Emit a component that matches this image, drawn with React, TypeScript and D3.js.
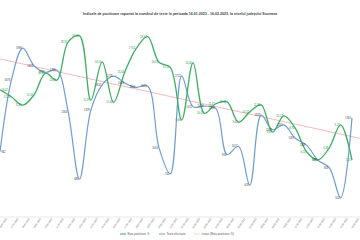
import React from "react";
import * as d3 from "d3";

const dates = [
  "16.01.2023", "17.01.2023", "18.01.2023", "19.01.2023", "20.01.2023", "21.01.2023",
  "22.01.2023", "23.01.2023", "24.01.2023", "25.01.2023", "26.01.2023", "27.01.2023",
  "28.01.2023", "29.01.2023", "30.01.2023", "31.01.2023", "01.02.2023", "02.02.2023",
  "03.02.2023", "04.02.2023", "05.02.2023", "06.02.2023", "07.02.2023", "08.02.2023",
  "09.02.2023", "10.02.2023", "11.02.2023", "12.02.2023", "13.02.2023", "14.02.2023",
  "15.02.2023", "16.02.2023",
];

const rataPozitivare = [
  13.02, 12.25, 11.31, 12.47, 14.86, 14.09, 18.35, 19.04, 11.87, 16.13, 11.64, 15.03,
  17.62, 18.93, 16.09, 15.51, 9.66, 16.02, 10.41, 11.47, 11.68, 9.42, 10.57, 11.35,
  8.31, 10.12, 8.76, 6.14, 5.23, 6.58, 9.13, 5.21,
];

const testeEfectuate = [
  962, 1676, 1998, 1823, 1757, 1781, 1364, 688, 1379, 1632, 1718, 1649, 1606, 1621,
  1003, 741, 1722, 1412, 1418, 1396, 934, 1017, 629, 1328, 1183, 1231, 1097, 1029,
  878, 803, 502, 1301,
];

const title =
  "Indicele de pozitivare  raportat la numărul  de teste în perioada  16.01.2023 - 16.02.2023, la nivelul județului Suceava";

const legendLabels = ["Rata pozitivare %", "Teste efectuate", "Linear (Rata pozitivare %)"];

const GREEN = "#3DAE62";
const BLUE = "#6C9ED3";
const TREND = "#F0A8A8";
const FONT = "'Liberation Sans', Arial, sans-serif";

export default function App() {
  const W = 360;
  const H = 240;
  const x = d3.scalePoint<string>().domain(dates).range([0, 352]);
  const yG = d3.scaleLinear().domain([0, 20]).range([207, 27]);
  const yB = d3.scaleLinear().domain([0, 2000]).range([248, 48]);

  const curve = d3.curveCatmullRom.alpha(0.5);
  const greenLine = d3
    .line<number>()
    .x((_, i) => x(dates[i]) as number)
    .y((d) => yG(d))
    .curve(curve);
  const blueLine = d3
    .line<number>()
    .x((_, i) => x(dates[i]) as number)
    .y((d) => yB(d))
    .curve(curve);

  // linear regression of positivity rate over index
  const n = rataPozitivare.length;
  const mx = d3.mean(d3.range(n)) as number;
  const my = d3.mean(rataPozitivare) as number;
  let num = 0;
  let den = 0;
  rataPozitivare.forEach((v, i) => {
    num += (i - mx) * (v - my);
    den += (i - mx) * (i - mx);
  });
  const slope = num / den;
  const intercept = my - slope * mx;
  const xi = d3.scaleLinear().domain([0, n - 1]).range([0, 352]);
  const t0 = 0;
  const t1 = n - 1 + 0.7;

  const fmtG = (v: number) => v.toFixed(2).replace(".", ",");
  const lx = (i: number) => (x(dates[i]) as number) + (i === 0 ? 1.2 : -1);
  const la = (i: number) => (i === 0 ? "start" : "end");

  return (
    <div style={{ position: "fixed", left: 0, top: 0, width: W, height: H, background: "#fff" }}>
      <svg width={W} height={H} style={{ display: "block" }} fontFamily={FONT}>
        <rect width={W} height={H} fill="#fff" />
        <text x={180} y={15} textAnchor="middle" fontSize={3.6} fontWeight="bold" fill="#404040">
          {title}
        </text>

        {/* x axis line */}
        <line x1={0} x2={360} y1={217} y2={217} stroke="#d9d9d9" strokeWidth={0.6} />
        {dates.map((d) => {
          const px = (x(d) as number) + 7;
          return (
            <text
              key={d}
              transform={`translate(${px},219) rotate(-55)`}
              textAnchor="end"
              fontSize={2.3}
              fill="#595959"
            >
              {d}
            </text>
          );
        })}

        {/* trend line */}
        <line
          x1={xi(t0)}
          y1={yG(intercept + slope * t0)}
          x2={xi(t1)}
          y2={yG(intercept + slope * t1)}
          stroke={TREND}
          strokeWidth={0.8}
        />

        <path d={blueLine(testeEfectuate) || ""} fill="none" stroke={BLUE} strokeWidth={1.2} />
        <path d={greenLine(rataPozitivare) || ""} fill="none" stroke={GREEN} strokeWidth={1.3} />

        {testeEfectuate.map((v, i) => (
          <text
            key={"b" + i}
            x={lx(i)}
            y={yB(v) + 1}
            textAnchor={la(i)}
            fontSize={2.6}
            fill="#404040"
          >
            {v}
          </text>
        ))}
        {rataPozitivare.map((v, i) => (
          <text
            key={"g" + i}
            x={lx(i)}
            y={yG(v) + 1}
            textAnchor={la(i)}
            fontSize={2.6}
            fill="#2f8a4c"
          >
            {fmtG(v)}
          </text>
        ))}

        {/* legend */}
        <g fontSize={2.8} fill="#595959">
          <line x1={120} x2={126} y1={234} y2={234} stroke={GREEN} strokeWidth={1} />
          <text x={127.5} y={235}>{legendLabels[0]}</text>
          <line x1={159} x2={165} y1={234} y2={234} stroke={BLUE} strokeWidth={1} />
          <text x={166.5} y={235}>{legendLabels[1]}</text>
          <line x1={194} x2={200} y1={234} y2={234} stroke={TREND} strokeWidth={0.8} strokeDasharray="1,0.6" />
          <text x={201.5} y={235}>{legendLabels[2]}</text>
        </g>
      </svg>
    </div>
  );
}
